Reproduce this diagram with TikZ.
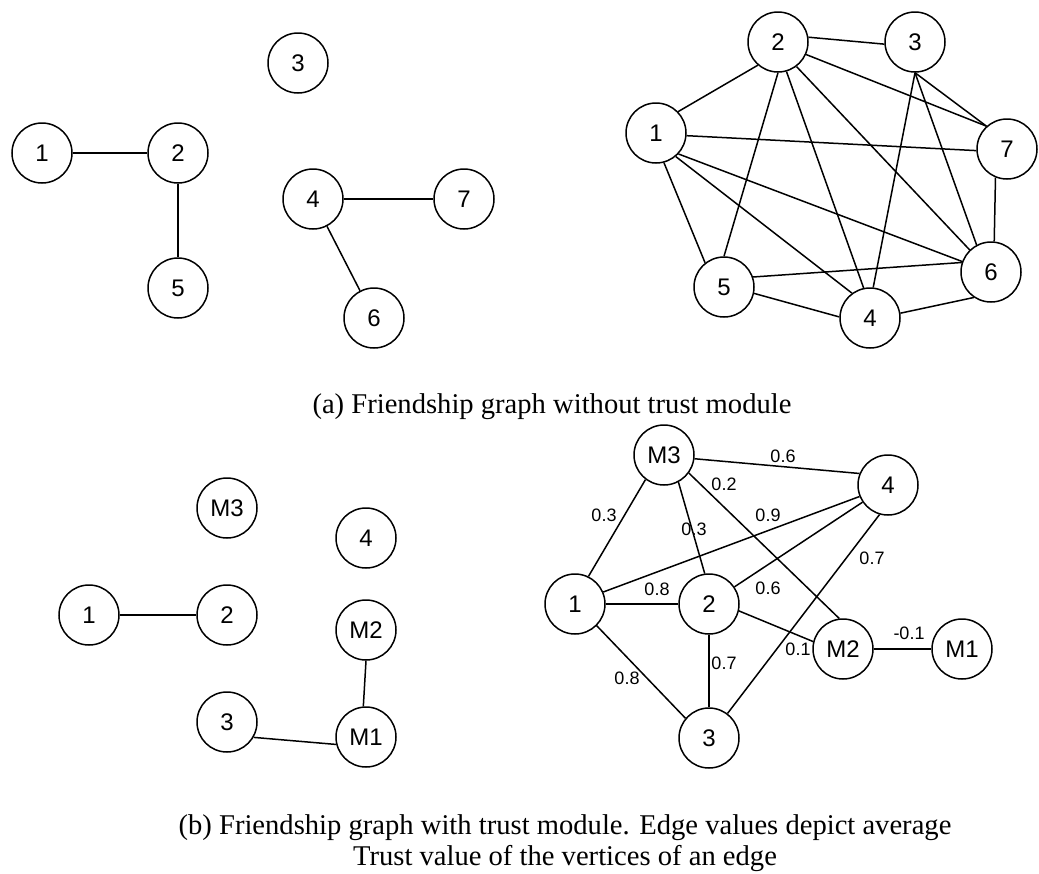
\documentclass[tikz,border=0pt]{standalone}
\usepackage{fontspec}
\setmainfont{Liberation Serif}
\newfontfamily\arialfont{Liberation Sans}

\tikzset{
  vertex/.style={circle, draw, minimum size=30pt, inner sep=0pt,
    font=\arialfont\fontsize{12}{14}\selectfont},
  weight/.style={inner sep=0.5pt, font=\arialfont\fontsize{9}{10}\selectfont},
  caption/.style={align=center, font=\fontsize{14.3}{15.5}\selectfont}
}

\begin{document}
\begin{tikzpicture}[x=0.5pt, y=-0.5pt, line width=0.75pt]
  \useasboundingbox (0,0) rectangle (1039,873);

  % (a) left: friendship graph
  \begin{scope}
    \node[vertex] (a1) at (42,153) {1};
    \node[vertex] (a2) at (178,153) {2};
    \node[vertex] (a3) at (298,63) {3};
    \node[vertex] (a4) at (313,199) {4};
    \node[vertex] (a5) at (178,288) {5};
    \node[vertex] (a6) at (374,318) {6};
    \node[vertex] (a7) at (464,199) {7};

    \draw (a1) -- (a2);
    \draw (a2) -- (a5);
    \draw (a4) -- (a7);
    \draw (a4) -- (a6);
  \end{scope}

  % (a) right
  \begin{scope}
    \node[vertex] (c1) at (656,133) {1};
    \node[vertex] (c2) at (778,42) {2};
    \node[vertex] (c3) at (915,42) {3};
    \node[vertex] (c4) at (870,318) {4};
    \node[vertex] (c5) at (724,287) {5};
    \node[vertex] (c6) at (991,272) {6};
    \node[vertex] (c7) at (1007,149) {7};

    \draw (c2.9) -- (c3.184);
    \draw (c2.229) -- (c1.44);
    \draw (c2.-24) -- (c7.132);
    \draw (c2.south) -- (c5.north);
    \draw (c2.-74) -- (c4.102);
    \draw (c2.-53) -- (c6.134);
    \draw (c3.south) -- (c7.132);
    \draw (c3.south) -- (c4.84);
    \draw (c3.south) -- (c6.118);
    \draw (c1.-5) -- (c7.183);
    \draw (c1.-43) -- (c6.160);
    \draw (c1.-50) -- (c4.126);
    \draw (c1.-75) -- (c5.128);
    \draw (c7.-112) -- (c6.84);
    \draw (c5.19) -- (c6.162);
    \draw (c5.-12) -- (c4.178);
    \draw (c4.9) -- (c6.-124);
  \end{scope}

  \node[caption, anchor=base] (capa) at (552,413)
    {(a) Friendship graph without trust module};

  % (b) left: with trust module
  \begin{scope}
    \node[vertex] (bM3) at (227,508) {M3};
    \node[vertex] (b4) at (366,538) {4};
    \node[vertex] (b1) at (89,615) {1};
    \node[vertex] (b2) at (227,615) {2};
    \node[vertex] (bM2) at (366,630) {M2};
    \node[vertex] (b3) at (227,722) {3};
    \node[vertex] (bM1) at (366,737) {M1};

    \draw (b1) -- (b2);
    \draw (bM2.south) -- (bM1.95);
    \draw (b3.-30) -- (bM1.194);
  \end{scope}

  % (b) right
  \begin{scope}
    \node[vertex] (tM3) at (664,455) {M3};
    \node[vertex] (t4) at (888,485) {4};
    \node[vertex] (t1) at (575,604) {1};
    \node[vertex] (t2) at (709,604) {2};
    \node[vertex] (tM2) at (843,649) {M2};
    \node[vertex] (tM1) at (962,649) {M1};
    \node[vertex] (t3) at (709,738) {3};

    \draw (tM3.-7) -- (t4.158);
    \draw (tM3.-127) -- (t1.64);
    \draw (tM3.-62) -- (t2.98);
    \draw (tM3.-36) -- (tM2.97);
    \draw (t1.23) -- (t4.202);
    \draw (t1) -- (t2);
    \draw (t1.-45) -- (t3.140);
    \draw (t2.34) -- (t4.214);
    \draw (t2.-13) -- (tM2.166);
    \draw (t2) -- (t3);
    \draw (t4.-106) -- (t3.53);
    \draw (tM2) -- (tM1);

    \node[weight] (wM34) at (783,456) {0.6};
    \node[weight] (wM3M2) at (724,484) {0.2};
    \node[weight] (wM31) at (604,515) {0.3};
    \node[weight] (wM32) at (694,529) {0.3};
    \node[weight] (w14) at (768,515) {0.9};
    \node[weight] (w43) at (872,558) {0.7};
    \node[weight] (w12) at (657,589) {0.8};
    \node[weight] (w24) at (768,588) {0.6};
    \node[weight] (w2M2) at (798,649) {0.1};
    \node[weight] (w23) at (724,663) {0.7};
    \node[weight] (w13) at (627,678) {0.8};
    \node[weight] (wM2M1) at (909,633) {-0.1};
  \end{scope}

  \node[caption] (capb) at (565,843)
    {(b) Friendship graph with trust module. Edge values depict average\\
     Trust value of the vertices of an edge};
\end{tikzpicture}
\end{document}
